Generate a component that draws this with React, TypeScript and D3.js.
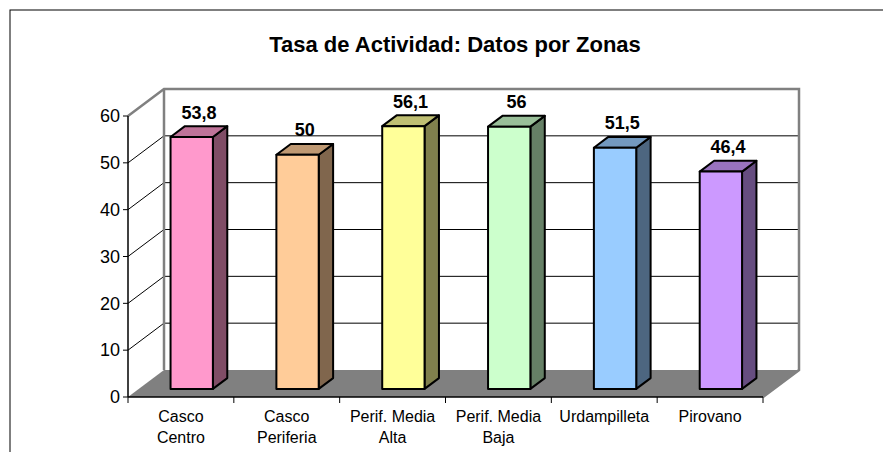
import { useMemo } from "react";
import * as d3 from "d3";

// chart data
const categories = ["Casco Centro", "Casco Periferia", "Perif. Media Alta", "Perif. Media Baja", "Urdampilleta", "Pirovano"];
const categoryLines = [["Casco", "Centro"], ["Casco", "Periferia"], ["Perif. Media", "Alta"], ["Perif. Media", "Baja"], ["Urdampilleta"], ["Pirovano"]];
const values = [53.8, 50, 56.1, 56, 51.5, 46.4];
const barColors = ["#FF99CC", "#FFCC99", "#FFFF99", "#CCFFCC", "#99CCFF", "#CC99FF"];
const yTicks = [0, 10, 20, 30, 40, 50, 60];
const title = "Tasa de Actividad: Datos por Zonas";

const W = 883;
const H = 452;
const FONT = "'Liberation Sans', Arial, sans-serif";

// 3d projection
const DX = 36;
const DY = 27;
const BAR_F0 = 0.3;
const BAR_F1 = 0.7;

function shade(c: string, k: number) {
  const col = d3.rgb(c);
  return d3.rgb(col.r * k, col.g * k, col.b * k).formatHex();
}

export default function App() {
  const x = useMemo(() => d3.scaleBand<string>().domain(categories).range([128, 763]).paddingInner(0).paddingOuter(0), []);
  const y = useMemo(() => d3.scaleLinear().domain([0, 60]).range([397, 116]), []);

  const pt = (px: number, v: number, f: number) => [px + f * DX, y(v) - f * DY] as [number, number];
  const poly = (pts: [number, number][]) => pts.map((p) => p.join(",")).join(" ");

  const x0 = x.range()[0];
  const x1 = x.range()[1];
  const yMax = 60;
  const bw = x.bandwidth() * 0.4;

  return (
    <svg width={W} height={H} style={{ position: "absolute", left: 0, top: 0, background: "#fff" }} fontFamily={FONT}>
      {/* outer frame */}
      <rect x={10} y={10} width={W + 20} height={H + 20} fill="#fff" stroke="#000" strokeWidth={1} />

      <text x={455} y={52} textAnchor="middle" fontSize={22} fontWeight="bold">{title}</text>

      {/* back wall */}
      <polygon points={poly([pt(x0, 0, 1), pt(x1, 0, 1), pt(x1, yMax, 1), pt(x0, yMax, 1)])} fill="#fff" />
      {/* floor */}
      <polygon points={poly([pt(x0, 0, 0), pt(x1, 0, 0), pt(x1, 0, 1), pt(x0, 0, 1)])} fill="#808080" />

      {/* gridlines */}
      {yTicks.filter((t) => t > 0 && t < yMax).map((t) => (
        <g key={t}>
          <line x1={pt(x0, t, 0)[0]} y1={pt(x0, t, 0)[1]} x2={pt(x0, t, 1)[0]} y2={pt(x0, t, 1)[1]} stroke="#000" strokeWidth={1} />
          <line x1={pt(x0, t, 1)[0]} y1={pt(x0, t, 1)[1]} x2={pt(x1, t, 1)[0]} y2={pt(x1, t, 1)[1]} stroke="#000" strokeWidth={1} />
        </g>
      ))}

      {/* wall borders */}
      <polyline
        points={poly([pt(x0, yMax, 0), pt(x0, yMax, 1), pt(x1, yMax, 1), pt(x1, 0, 1), pt(x1, 0, 0)])}
        fill="none" stroke="#808080" strokeWidth={2.5} strokeLinejoin="miter" />
      <line x1={pt(x0, 0, 1)[0]} y1={pt(x0, 0, 1)[1]} x2={pt(x0, yMax, 1)[0]} y2={pt(x0, yMax, 1)[1]} stroke="#808080" strokeWidth={2.5} />

      {/* bars */}
      {categories.map((c, i) => {
        const v = values[i];
        const cx = x(c)! + x.bandwidth() / 2;
        const l = cx - bw / 2;
        const r = cx + bw / 2;
        const front = [pt(l, 0, BAR_F0), pt(r, 0, BAR_F0), pt(r, v, BAR_F0), pt(l, v, BAR_F0)];
        const side = [pt(r, 0, BAR_F0), pt(r, 0, BAR_F1), pt(r, v, BAR_F1), pt(r, v, BAR_F0)];
        const top = [pt(l, v, BAR_F0), pt(r, v, BAR_F0), pt(r, v, BAR_F1), pt(l, v, BAR_F1)];
        const lab = pt(cx, v, 0.5);
        return (
          <g key={c} stroke="#000" strokeWidth={2} strokeLinejoin="round">
            <polygon points={poly(side)} fill={shade(barColors[i], 0.5)} />
            <polygon points={poly(top)} fill={shade(barColors[i], 0.75)} />
            <polygon points={poly(front)} fill={barColors[i]} />
            <text x={lab[0]} y={lab[1] - 13} textAnchor="middle" fontSize={18} fontWeight="bold" stroke="none">
              {String(v).replace(".", ",")}
            </text>
          </g>
        );
      })}

      {/* value axis */}
      <line x1={x0} y1={y(0)} x2={x0} y2={y(yMax)} stroke="#000" strokeWidth={1.5} />
      {yTicks.map((t) => (
        <g key={t}>
          <line x1={x0 - 5} y1={y(t)} x2={x0} y2={y(t)} stroke="#000" strokeWidth={1} />
          <text x={x0 - 8} y={y(t)} dy="0.35em" textAnchor="end" fontSize={18}>{t}</text>
        </g>
      ))}

      {/* category axis */}
      <line x1={x0} y1={y(0)} x2={x1} y2={y(0)} stroke="#000" strokeWidth={1.5} />
      {[...categories.map((c) => x(c)!), x1].map((tx, i) => (
        <line key={i} x1={tx} y1={y(0)} x2={tx} y2={y(0) + 6} stroke="#000" strokeWidth={1} />
      ))}
      {categories.map((c, i) => (
        <text key={c} x={x(c)! + x.bandwidth() / 2} y={y(0) + 25} textAnchor="middle" fontSize={16}>
          {categoryLines[i].map((ln, j) => (
            <tspan key={j} x={x(c)! + x.bandwidth() / 2} dy={j === 0 ? 0 : 21}>{ln}</tspan>
          ))}
        </text>
      ))}
    </svg>
  );
}
